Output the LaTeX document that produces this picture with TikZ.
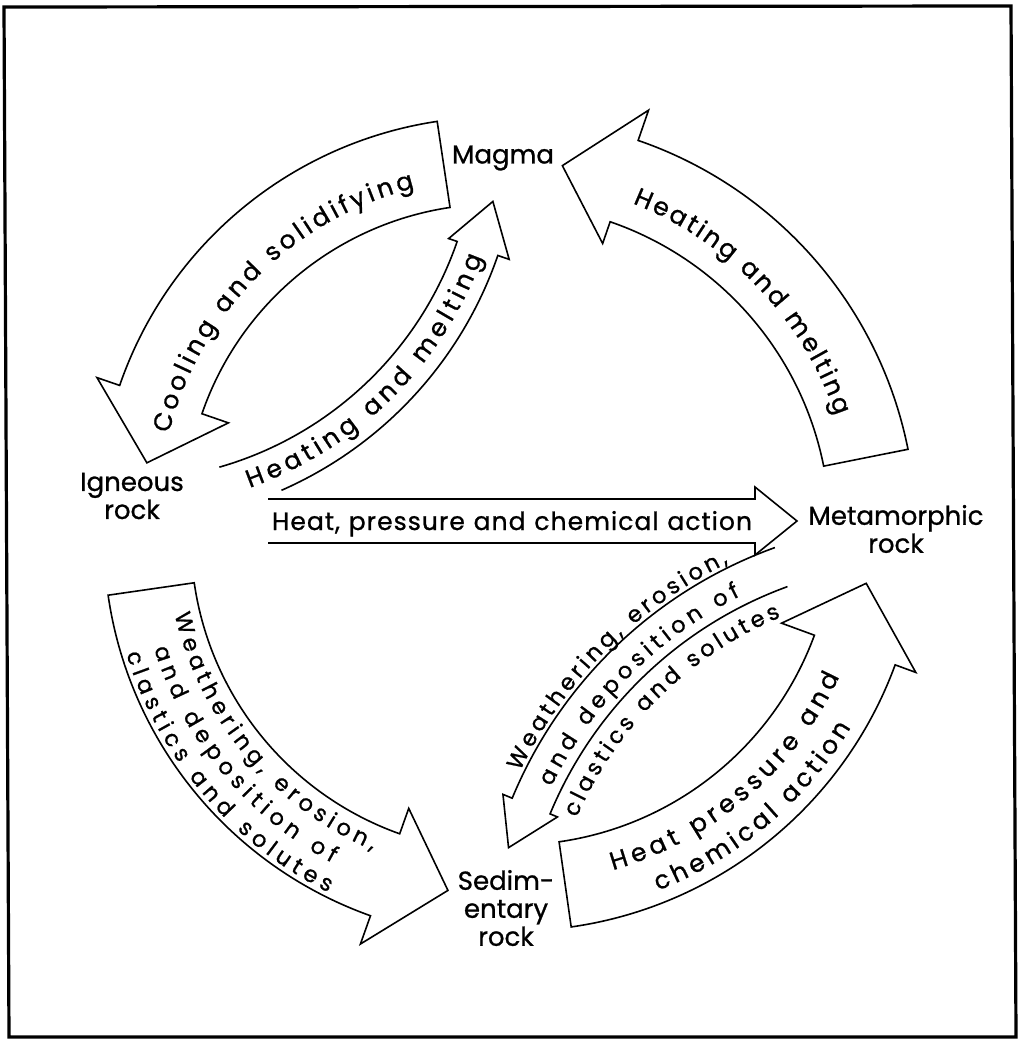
\documentclass[tikz,border=0pt]{standalone}
\usepackage{fontspec}
\setmainfont{Poppins}[FakeBold=0.9]
\usetikzlibrary{calc,decorations.text}
\newcommand{\labfont}{\fontsize{26}{28}\selectfont}
\newcommand{\arrfont}{\fontsize{25}{28}\selectfont}
\newcommand{\smarrfont}{\fontsize{22.5}{28}\selectfont}
\begin{document}
\begin{tikzpicture}[x=1pt,y=-1pt,
  outline/.style={draw=black, line width=1.6pt, line join=miter, fill=white},
  lab/.style={font=\labfont, align=center, inner sep=0pt},
  arctext/.style={decorate, decoration={text along path, text align=fit to path, text={|\arrfont|#1}}},
  smarctext/.style={decorate, decoration={text along path, text align=fit to path, text={|\smarrfont|#1}}}
]
\useasboundingbox (0,0) rectangle (1019,1039);
% frame
\draw[line width=3.2pt] (4,7) -- (1011,6) -- (1016,1037) -- (9,1037) -- cycle;

% centres of the curved arrows
\coordinate (c1) at (496,515);
\coordinate (c2) at (121.5,125.9);
\coordinate (c3) at (504,530);
\coordinate (c4) at (505,538);
\coordinate (c5) at (514,525);
\coordinate (c6) at (927,970);

% Cooling and solidifying
\draw[outline] ($(c1)+(261.5:398)$) arc[start angle=261.5, end angle=199, radius=398]
  -- ($(c1)+(199:422)$) -- ($(c1)+(188.5:353)$) -- ($(c1)+(199:283)$) -- ($(c1)+(199:311)$)
  arc[start angle=199, end angle=261.5, radius=311] -- cycle;
\path[arctext={Cooling and solidifying}] ($(c1)+(194:337)$) arc[start angle=194, end angle=256, radius=337];

% Heating and melting (inner, thin)
\draw[outline] ($(c2)+(74:355)$) arc[start angle=74, end angle=19, radius=355]
  -- ($(c2)+(19:346)$) -- ($(c2)+(11.5:379)$) -- ($(c2)+(19:410)$) -- ($(c2)+(19:398)$)
  arc[start angle=19, end angle=66.3, radius=398];
\path[arctext={Heating and melting}] ($(c2)+(70.5:384)$) arc[start angle=70.5, end angle=20, radius=384];

% Heating and melting (right)
\draw[outline] ($(c3)+(348.7:412)$) arc[start angle=348.7, end angle=289, radius=412]
  -- ($(c3)+(289:444)$) -- ($(c3)+(279.1:369)$) -- ($(c3)+(289:303)$) -- ($(c3)+(289:326)$)
  arc[start angle=289, end angle=348.7, radius=326] -- cycle;
\path[arctext={Heating and melting}] ($(c3)+(291.5:351)$) arc[start angle=291.5, end angle=341, radius=351];

% Weathering (left)
\draw[outline] ($(c4)+(171.8:401)$) arc[start angle=171.8, end angle=109.6, radius=401]
  -- ($(c4)+(109.6:431)$) -- ($(c4)+(99.2:357)$) -- ($(c4)+(109.6:287)$) -- ($(c4)+(109.6:314)$)
  arc[start angle=109.6, end angle=171.8, radius=314] -- cycle;
\path[smarctext={Weathering, erosion,}] ($(c4)+(167:339)$) arc[start angle=167, end angle=113, radius=339];
\path[smarctext={and deposition of}] ($(c4)+(162.5:368)$) arc[start angle=162.5, end angle=118, radius=368];
\path[smarctext={clastics and solutes}] ($(c4)+(163:396)$) arc[start angle=163, end angle=116.5, radius=396];

% Heat pressure and chemical action (lower right)
\draw[outline] ($(c5)+(81.9:406)$) arc[start angle=81.9, end angle=20.15, radius=406]
  -- ($(c5)+(20.15:428)$) -- ($(c5)+(9.4:357)$) -- ($(c5)+(20.15:285)$) -- ($(c5)+(20.15:320)$)
  arc[start angle=20.15, end angle=81.9, radius=320] -- cycle;
\path[arctext={Heat pressure and}] ($(c5)+(74:359)$) arc[start angle=74, end angle=25, radius=359];
\path[arctext={chemical action}] ($(c5)+(68.5:393)$) arc[start angle=68.5, end angle=31, radius=393];

% Weathering (inner, thin)
\draw[outline] ($(c6)+(250.2:449)$) arc[start angle=250.2, end angle=202.5, radius=449]
  -- ($(c6)+(202.5:459)$) -- ($(c6)+(196.3:436)$) -- ($(c6)+(202.5:400)$) -- ($(c6)+(202.5:408)$)
  arc[start angle=202.5, end angle=250, radius=408];
\path[smarctext={Weathering, erosion,}] ($(c6)+(206:453)$) arc[start angle=206, end angle=244, radius=453];
\path[smarctext={and deposition of}] ($(c6)+(206:418)$) arc[start angle=206, end angle=243.5, radius=418];
\path[smarctext={clastics and solutes}] ($(c6)+(203.5:382)$) arc[start angle=203.5, end angle=247.5, radius=382];

% straight arrow
\draw[outline] (268,499) -- (755,499) -- (755,487) -- (797,521) -- (755,555) -- (755,543) -- (268,543);
\path[arctext={Heat, pressure and chemical action}] (272,530) -- (752,530);

% labels
\node[lab] (magma) at (503,158) {Magma};
\node[lab] (igneous) at (132,496) {Igneous\\rock};
\node[lab] (meta) at (896,529) {Metamorphic\\rock};
\node[lab] (sed) at (506,908) {Sedim-\\entary\\rock};
\end{tikzpicture}
\end{document}
